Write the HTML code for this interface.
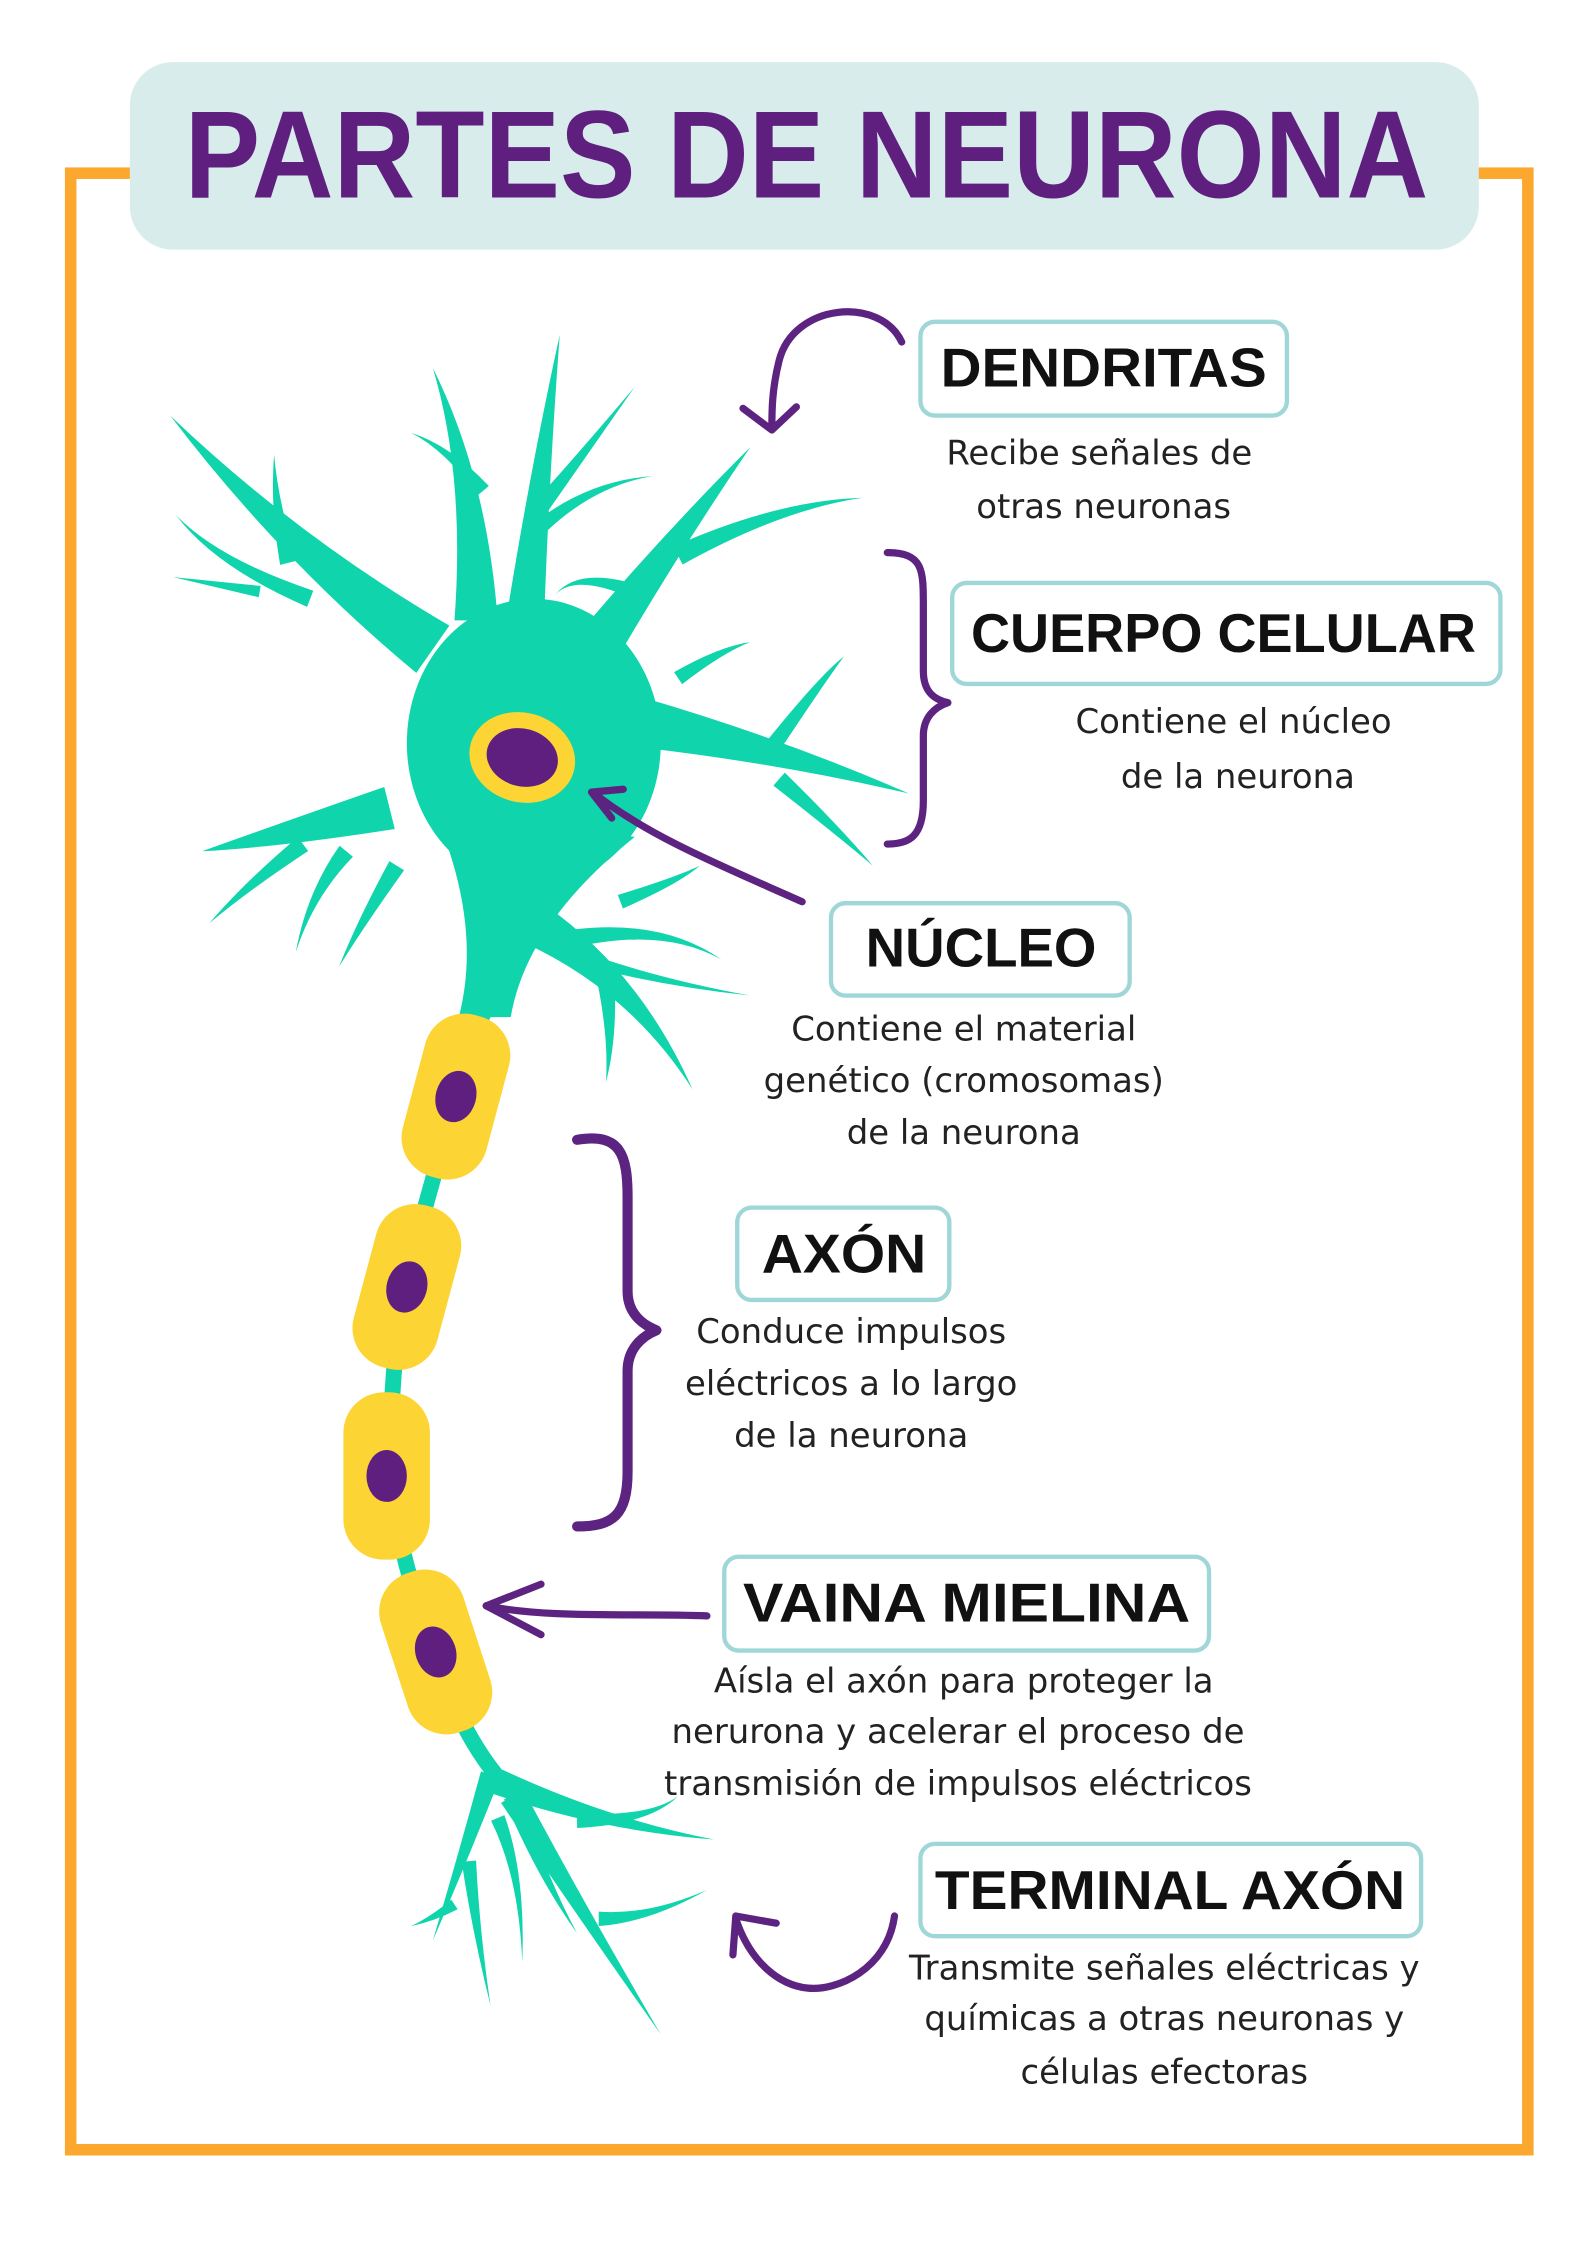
<!DOCTYPE html>
<html><head><meta charset="utf-8"><style>
html,body{margin:0;padding:0;background:#fff;}
svg{display:block;}
.lbl{font-family:"Liberation Sans",sans-serif;font-weight:bold;fill:#111;text-anchor:middle;}
.d{font-family:"DejaVu Sans","Liberation Sans",sans-serif;font-size:23.5px;fill:#222;text-anchor:middle;}
.box{fill:#fff;stroke:#9fd6d8;stroke-width:3;}
.pp{fill:none;stroke:#5c2380;stroke-width:5;stroke-linecap:round;stroke-linejoin:round;}
</style></head><body>
<svg id="s" width="1587" height="2245" viewBox="0 0 1100 1556" xmlns="http://www.w3.org/2000/svg">
<rect x="0" y="0" width="1100" height="1556" fill="#fff"/>
<rect x="49" y="120" width="1010" height="1370" fill="none" stroke="#fca72e" stroke-width="8"/>
<rect x="90" y="43" width="935" height="130" rx="30" fill="#d8ecec"/>
<text x="559" y="137" font-family="Liberation Sans,sans-serif" font-weight="bold" font-size="86" fill="#5f1f7e" text-anchor="middle" textLength="862" lengthAdjust="spacingAndGlyphs">PARTES DE NEURONA</text>

<g id="neuron" fill="#10d4ab"></g>
<g id="myelin"></g>

<path class="pp" d="M625,237 C610,205 550,210 540,250 C535,270 535,285 535,297"/>
<path class="pp" d="M515,283 L535,298 L552,282"/>
<path class="pp" d="M615,383 C640,383 640,395 640,420 L640,465 C640,480 648,485 657,487 C648,490 640,497 640,510 L640,555 C640,580 630,585 615,585"/>
<path class="pp" d="M556,625 C500,600 450,580 412,550"/>
<path class="pp" d="M432,547 L410,549 L424,567"/>
<path class="pp" style="stroke-width:7" d="M400,790 C430,785 435,800 435,830 L435,895 C435,910 445,918 455,922 C445,926 435,935 435,950 L435,1020 C435,1050 425,1058 400,1058"/>
<path class="pp" d="M490,1120 C440,1118 380,1122 337,1113"/>
<path class="pp" d="M375,1098 L337,1113 L375,1133"/>
<path class="pp" d="M620,1328 C615,1365 580,1380 560,1378 C540,1376 520,1360 510,1330"/>
<path class="pp" d="M538,1333 L510,1328 L508,1355"/>

<rect class="box" x="638" y="223" width="254" height="65" rx="10"/>
<text class="lbl" x="765" y="268" font-size="38" textLength="226" lengthAdjust="spacingAndGlyphs">DENDRITAS</text>
<text class="d" x="762" y="322">Recibe señales de</text>
<text class="d" x="765" y="359">otras neuronas</text>

<rect class="box" x="660" y="404" width="380" height="70" rx="10"/>
<text class="lbl" x="848" y="452" font-size="38" textLength="350" lengthAdjust="spacingAndGlyphs">CUERPO CELULAR</text>
<text class="d" x="855" y="508">Contiene el núcleo</text>
<text class="d" x="858" y="546">de la neurona</text>

<rect class="box" x="576" y="626" width="207" height="64" rx="10"/>
<text class="lbl" x="680" y="670" font-size="38" textLength="160" lengthAdjust="spacingAndGlyphs">NÚCLEO</text>
<text class="d" x="668" y="721">Contiene el material</text>
<text class="d" x="668" y="757">genético (cromosomas)</text>
<text class="d" x="668" y="793">de la neurona</text>

<rect class="box" x="511" y="837" width="147" height="64" rx="10"/>
<text class="lbl" x="585" y="882" font-size="38" textLength="114" lengthAdjust="spacingAndGlyphs">AXÓN</text>
<text class="d" x="590" y="931">Conduce impulsos</text>
<text class="d" x="590" y="967">eléctricos a lo largo</text>
<text class="d" x="590" y="1003">de la neurona</text>

<rect class="box" x="502" y="1079" width="336" height="65" rx="10"/>
<text class="lbl" x="670" y="1124" font-size="38" textLength="310" lengthAdjust="spacingAndGlyphs">VAINA MIELINA</text>
<text class="d" x="668" y="1173">Aísla el axón para proteger la</text>
<text class="d" x="664" y="1208">nerurona y acelerar el proceso de</text>
<text class="d" x="664" y="1244">transmisión de impulsos eléctricos</text>

<rect class="box" x="638" y="1278" width="347" height="64" rx="10"/>
<text class="lbl" x="811" y="1323" font-size="38" textLength="326" lengthAdjust="spacingAndGlyphs">TERMINAL AXÓN</text>
<text class="d" x="807" y="1372">Transmite señales eléctricas y</text>
<text class="d" x="807" y="1407">químicas a otras neuronas y</text>
<text class="d" x="807" y="1444">células efectoras</text>
</svg>
<script>
(function(){
var NS="http://www.w3.org/2000/svg";
var g=document.getElementById("neuron"), m=document.getElementById("myelin");
function el(p,tag,a){var e=document.createElementNS(NS,tag);for(var k in a)e.setAttribute(k,a[k]);p.appendChild(e);return e;}
function taper(x1,y1,cx,cy,x2,y2,w){
 var dx=cx-x1,dy=cy-y1,l=Math.sqrt(dx*dx+dy*dy)||1,nx=-dy/l,ny=dx/l,h=w/2;
 var d="M"+(x1+nx*h)+","+(y1+ny*h)+" Q"+(cx+nx*h/2)+","+(cy+ny*h/2)+" "+x2+","+y2+" Q"+(cx-nx*h/2)+","+(cy-ny*h/2)+" "+(x1-nx*h)+","+(y1-ny*h)+" Z";
 el(g,"path",{d:d});
}
var D=[
[300,450,200,380,118,288,40],[200,390,190,350,190,315,12],[215,415,150,390,122,357,12],[180,410,150,405,120,400,8],
[330,430,330,330,300,255,30],[335,340,310,310,285,300,10],
[365,420,375,320,388,232,25],[372,355,400,320,440,268,12],[375,365,410,335,452,330,10],
[420,440,470,370,520,310,30],[470,385,540,350,598,345,14],[440,410,400,395,385,412,10],
[440,500,540,520,630,550,35],[530,525,570,470,585,455,12],[540,540,580,575,605,600,12],[470,470,500,450,520,445,10],
[270,560,190,580,140,590,30],[210,585,170,615,145,640,12],[240,590,215,620,205,660,12],[275,600,250,640,235,670,12],
[370,640,440,680,480,755,30],[420,680,425,720,420,750,12],[400,650,460,640,500,665,12],[430,625,470,610,485,600,10],[390,660,450,680,520,690,10],
[350,640,335,690,322,740,45],
[345,1235,420,1265,495,1275,18],[355,1245,400,1320,458,1410,18],[355,1245,375,1300,400,1340,12],[340,1230,320,1290,300,1345,14],
[325,1290,330,1340,340,1390,10],[400,1262,450,1262,470,1245,10],[415,1330,450,1330,490,1310,10],[345,1260,362,1300,362,1360,10],[315,1320,300,1330,285,1335,8]
];
el(g,"ellipse",{cx:370,cy:515,rx:88,ry:100});
el(g,"path",{d:"M300,560 Q335,640 318,705 L354,705 Q365,640 440,580 Z"});
D.forEach(function(a){taper.apply(null,a);});
el(g,"path",{d:"M333,690 C320,760 290,840 280,900 C265,980 270,1060 290,1110 C305,1160 320,1210 360,1248",fill:"none",stroke:"#10d4ab","stroke-width":11,"stroke-linecap":"round"});
el(g,"ellipse",{cx:362,cy:525,rx:37,ry:31,fill:"#fcd535",transform:"rotate(15 362 525)"});
el(g,"ellipse",{cx:362,cy:525,rx:25,ry:20,fill:"#5f1f7e",transform:"rotate(15 362 525)"});
var M=[[316,760,15],[282,892,15],[268,1023,0],[302,1145,-18]];
M.forEach(function(a){
 el(m,"rect",{x:a[0]-30,y:a[1]-58,width:60,height:116,rx:28,fill:"#fcd535",transform:"rotate("+a[2]+" "+a[0]+" "+a[1]+")"});
 el(m,"ellipse",{cx:a[0],cy:a[1],rx:14,ry:18,fill:"#5f1f7e",transform:"rotate("+a[2]+" "+a[0]+" "+a[1]+")"});
});
})();
</script>
</body></html>
